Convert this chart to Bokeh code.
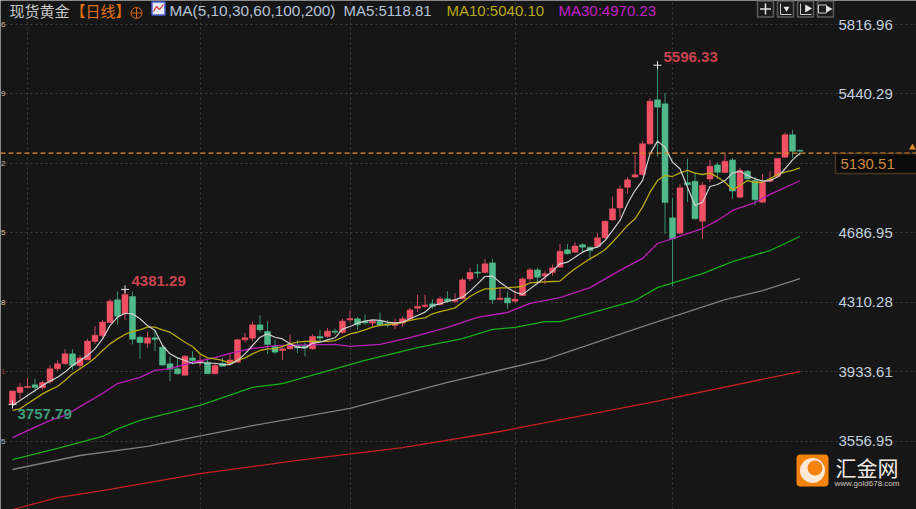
from bokeh.plotting import figure
from bokeh.models import Range1d, FixedTicker, Span, Label, PrintfTickFormatter, ColumnDataSource, BoxAnnotation
from bokeh.core.properties import value
from bokeh.embed import file_html
from bokeh.resources import INLINE

opens = [3762,3822,3849,3864,3848,3882,3951,3978,4032,3969,3999,4099,4131,4202,4325,4249,4343,4122,4090,4119,4068,3978,3951,3916,4010,3985,3987,3924,3981,3978,3987,4108,4117,4189,4153,4072,
4050,4059,4077,4077,4059,4126,4126,4155,4148,4216,4222,4209,4198,4209,4195,4186,4198,4222,4279,4289,4303,4299,4330,4317,4330,4438,4475,4473,4525,4326,4335,4317,4348,4438,4487,4455,4473,4502,
4596,4583,4623,4610,4614,4661,4758,4823,4935,4990,5004,5170,5409,5387,4769,4686,4960,4968,4751,4980,5056,5015,5083,4881,5022,4971,4854,4968,4993,5098,5219,5136]
highs = [3833,3873,3900,3896,3887,3970,3996,4057,4057,4023,4113,4182,4216,4330,4370,4381.29,4370,4131,4153,4153,4077,4018,4010,4025,4046,4028,3999,3981,4010,4032,4113,4146,4207,4242,4209,4108,
4068,4137,4108,4095,4137,4162,4173,4169,4222,4267,4231,4245,4216,4256,4216,4222,4234,4281,4352,4352,4328,4343,4372,4361,4444,4498,4520,4547,4547,4393,4370,4379,4447,4498,4498,4480,4516,4628,
4628,4637,4632,4615,4686,4754,4885,4944,4989,5110,5185,5418,5596.33,5446,4877,4950,5089,5016,4962,5083,5071,5116,5094,5040,5029,4990,5007,5022,5094,5232,5246,5138]
lows = [3757.79,3788,3848,3824,3837,3869,3938,3974,3945,3945,3999,4086,4122,4198,4189,4216,4083,4005,4064,4046,3969,3884,3920,3915,3974,3963,3924,3923,3963,3974,3985,4095,4101,4146,4032,4032,
3999,4054,4036,4018,4054,4101,4119,4137,4140,4202,4162,4186,4173,4180,4176,4167,4180,4216,4258,4281,4276,4294,4307,4307,4328,4426,4444,4469,4303,4325,4276,4310,4345,4424,4415,4408,4455,4498,
4570,4578,4583,4538,4610,4655,4755,4773,4899,4986,4999,5166,5101,4682,4399,4679,4854,4760,4655,4962,4980,5011,4872,4877,4975,4836,4850,4962,4989,5094,5094,5107]
closes = [3830,3851,3855,3849,3877,3951,3978,4032,3969,4010,4101,4133,4204,4317,4236,4354,4111,4093,4119,4110,3971,3949,3924,4019,3996,3996,3924,3969,3965,3999,4108,4119,4189,4162,4083,4041,
4059,4086,4064,4064,4126,4117,4155,4149,4209,4223,4189,4200,4209,4187,4187,4202,4222,4270,4289,4296,4289,4330,4317,4325,4433,4473,4469,4520,4325,4334,4308,4328,4438,4487,4447,4466,4498,4588,
4574,4616,4610,4592,4661,4751,4818,4926,4975,5002,5170,5401,5369,4852,4655,4932,4948,4764,4946,5049,5016,5076,4914,5026,4980,4867,4962,4980,5091,5219,5130,5130.51]

ma5 = [3752,3779,3806,3833,3860,3884,3905,3933,3969,3996,4023,4059,4113,4185,4231,4252,4249,4222,4185,4158,4077,4032,4010,3996,3981,3985,3981,3981,3974,3974,3996,4032,4077,4122,4140,4122,
4113,4086,4068,4064,4090,4095,4108,4119,4166,4180,4198,4209,4216,4213,4204,4198,4204,4222,4240,4258,4294,4303,4317,4325,4339,4372,4411,4451,4453,4420,4390,4366,4354,4384,4415,4447,4480,4520,
4529,4556,4583,4601,4610,4646,4700,4755,4845,4917,4971,5116,5185,5152,5071,5035,4935,4836,4854,4939,4950,4971,5011,5022,4999,4980,4968,4971,4990,5035,5083,5118.81]
ma10 = [3725,3734,3761,3788,3815,3837,3855,3887,3924,3951,3978,4010,4050,4086,4113,4137,4153,4162,4177,4177,4162,4149,4122,4095,4072,4032,4010,4005,3996,3981,3996,4010,4032,4050,4059,4059,
4072,4086,4095,4099,4101,4099,4099,4104,4122,4140,4149,4162,4177,4186,4191,4195,4202,4213,4222,4227,4249,4261,4270,4281,4312,4343,4366,4384,4384,4390,4390,4393,4397,4417,4420,4422,4424,4426,
4462,4493,4520,4547,4570,4596,4637,4682,4728,4764,4827,4908,4971,4999,4993,5013,5026,5011,5004,5011,4990,4962,4921,4944,4971,4962,4962,4980,5004,5017,5026,5040.10]
ma30_x = [0,5,7,9,12,14,17,19,21,24,27,29,32,35,43,45,49,53,58,62,66,69,73,77,81,84,86,88,92,94,96,99,101,105]
ma30 = [3578,3671,3698,3746,3817,3871,3904,3942,3952,3985,4012,4034,4061,4077,4083,4072,4083,4120,4175,4229,4256,4305,4337,4391,4484,4549,4630,4657,4711,4755,4809,4852,4896,4970.23]
ma60_x = [0,6,12,14,17,25,32,36,47,54,60,64,67,71,73,83,86,92,96,101,105]
ma60 = [3459,3519,3584,3625,3671,3752,3850,3871,3996,4066,4115,4164,4175,4207,4207,4321,4391,4467,4532,4592,4668]
ma100_x = [0,9,18,32,45,58,71,84,95,100,105]
ma100 = [3405,3481,3530,3643,3736,3877,4001,4180,4326,4375,4440]
ma200_x = [0,6,12,25,38,52,65,85,105]
ma200 = [3188,3253,3291,3383,3454,3524,3611,3768,3936]

axis_ticks = [5816.96,5440.29,4686.95,4310.28,3933.61,3556.95]
grid_ticks = [5816.96,5440.29,5063.62,4686.95,4310.28,3933.61,3556.95]
edge_digits = ["6","9","2","5","8","1","5"]
edge_colors = ["#d8c0a0","#d8c0a0","#d8c0a0","#d8c0a0","#d8c0a0","#8c3030","#a8c0d8"]
month_starts = [2,25,45,67,88]
extreme_idx = [0,15,86]
extreme_val = [3757.79,4381.29,5596.33]
last_level = 5120
last_label = "5130.51"

BG = "#161616"
UP, DOWN = "#ef5063", "#4fb98a"
UPW, DOWNW = "#c8465a", "#35906c"

# pixel-to-data helpers for the chart furniture only
def px(x): return (x - 12) / 7.5
def py(y): return 5947.04 - 5.42 * y
W, H = 916, 509

p = figure(width=W, height=H, output_backend="svg", toolbar_location=None,
           x_range=Range1d(px(0), px(W)), y_range=Range1d(py(H), py(0)),
           y_axis_location="right", background_fill_color=BG, border_fill_color=BG,
           min_border_left=0, min_border_top=0, min_border_bottom=0, min_border_right=0,
           outline_line_color=None)
p.xaxis.visible = False
p.yaxis.ticker = FixedTicker(ticks=axis_ticks)
p.yaxis.formatter = PrintfTickFormatter(format="%.2f")
p.yaxis.axis_line_color = None
p.yaxis.major_tick_line_color = None
p.yaxis.minor_tick_line_color = None
p.yaxis.major_tick_out = 0
p.yaxis.major_tick_in = 0
p.yaxis.major_label_standoff = -78
p.yaxis.major_label_text_font = "Liberation Sans"
p.yaxis.major_label_text_font_size = "15px"
p.yaxis.major_label_text_color = "#c4cedb"
p.ygrid.ticker = FixedTicker(ticks=grid_ticks)
p.ygrid.bounds = (px(0), px(835))
p.xgrid.ticker = FixedTicker(ticks=month_starts)
for g in (p.xgrid, p.ygrid):
    g.grid_line_color = "#3e3e3e"
    g.grid_line_dash = "2 3"
    g.grid_line_width = 1

n = len(closes)
idx = list(range(n))
color = [UP if c >= o else DOWN for o, c in zip(opens, closes)]
wick = [UPW if c >= o else DOWNW for o, c in zip(opens, closes)]
src = ColumnDataSource(dict(x=idx, o=opens, h=highs, l=lows, c=closes, color=color, wick=wick,
                            top=[max(a, b) for a, b in zip(opens, closes)],
                            bot=[min(a, b) for a, b in zip(opens, closes)]))
p.segment("x", "h", "x", "l", color="wick", line_width=1, source=src)
p.vbar("x", top="top", bottom="bot", width=0.8, fill_color="color", line_color="color", line_width=0.5, source=src)

p.line(ma200_x, ma200, line_color="#c22222", line_width=1.3)
p.line(ma100_x, ma100, line_color="#7e7e7e", line_width=1.3)
p.line(ma60_x, ma60, line_color="#18ad18", line_width=1.3)
p.line(ma30_x, ma30, line_color="#b81fb8", line_width=1.3)
p.line(idx, ma10, line_color="#b8a90f", line_width=1.3)
p.line(idx, ma5, line_color="#cfcfcf", line_width=1.2)

p.scatter(extreme_idx, extreme_val, marker="cross", size=8, line_color="#e8e8e8", line_width=1)

p.add_layout(Span(location=last_level, dimension="width", line_color="#e08a2a", line_dash="5 3", line_width=1.2))

ext_text = [f"{v:.2f}" for v in extreme_val]
p.text(extreme_idx, extreme_val, text=ext_text, text_font=value("Liberation Sans"), text_font_size="15px",
       text_font_style="bold", text_color=["#3f9c7a", "#c8434f", "#c8434f"], text_align="left", text_baseline="middle",
       x_offset=[5, 6.5, 6], y_offset=[10, -8, -8.7])

# small figures of the left axis at the window edge
p.text([px(0.5)] * len(edge_digits), grid_ticks, text=edge_digits,
       text_font=value("Liberation Sans"), text_font_size="8px", text_color=edge_colors,
       text_align="left", text_baseline="middle")

def lab(x, y, text, color, size="15px", font="Liberation Sans", **kw):
    p.add_layout(Label(x=x, y=H - y, x_units="screen", y_units="screen", text=text, text_color=color,
                       text_font=font, text_font_size=size, text_baseline="middle", **kw))

cjk = "Noto Sans CJK SC"
lab(9, 10, "现货黄金", "#c9c9c9", "15px", cjk)
lab(70, 10, "【日线】", "#e2700f", "15px", cjk)
lab(169, 10, "MA(5,10,30,60,100,200)", "#b4c2d2", "15.4px")
lab(343, 10, "MA5:5118.81", "#b4c2d2")
lab(446, 10, "MA10:5040.10", "#b7a910")
lab(558, 10, "MA30:4970.23", "#c020c0")

# header icons
p.scatter([px(136)], [py(12.5)], marker="circle_cross", size=11, fill_color=None, line_color="#d9660f", line_width=1)
p.scatter([px(158)], [py(8)], marker="square", size=13, fill_color="#e8ecfa", line_color="#4b5fd0", line_width=1.5)
p.line([px(x) for x in (153, 156, 159, 163)], [py(y) for y in (11, 6, 9, 4)], line_color="#d02a2a", line_width=1.2)
for cx in (765, 785, 805, 825):
    p.scatter([px(cx)], [py(8.5)], marker="square", size=16, fill_color="#1b1b1b", line_color="#5c5c5c", line_width=1.5)
p.scatter([px(765)], [py(8.5)], marker="cross", size=11, line_color="#e4e4e4", line_width=1.5)
for cx in (785, 805):
    p.line([px(cx - 5), px(cx - 5), px(cx + 6)], [py(3), py(14), py(14)], line_color="#cfcfcf", line_width=1)
p.scatter([px(786)], [py(8)], marker="inverted_triangle", size=6, fill_color="#e4e4e4", line_color=None)
p.scatter([px(807)], [py(8)], marker="triangle", angle=-1.5708, size=8, fill_color="#e4e4e4", line_color=None)
p.scatter([px(822)], [py(8.5)], marker="square", size=8, fill_color=None, line_color="#cfcfcf", line_width=1)
p.scatter([px(828)], [py(8.5)], marker="triangle", angle=-1.5708, size=7, fill_color="#e4e4e4", line_color=None)

# price tag
p.add_layout(BoxAnnotation(left=835, right=W + 4, top=H - 153, bottom=H - 173,
                           left_units="screen", right_units="screen", top_units="screen", bottom_units="screen",
                           fill_color="#0b0b0b", fill_alpha=1, line_color="#c98a3c", line_width=1.5))
lab(840, 163, last_label, "#c98a3c")
p.scatter([px(912)], [py(147)], marker="triangle", size=7, fill_color="#dc8a2e", line_color=None)

# logo
p.add_layout(BoxAnnotation(left=796, right=828, top=H - 454, bottom=H - 486,
                           left_units="screen", right_units="screen", top_units="screen", bottom_units="screen",
                           fill_color="#f5820d", fill_alpha=1, line_color=None, border_radius=4))
p.scatter([px(812)], [py(470)], marker="circle", size=25, fill_color="#fbe8d4", line_color=None, level="overlay")
p.scatter([px(814.5)], [py(467.5)], marker="circle", size=15, fill_color="#f5820d", line_color=None, level="overlay")
lab(835, 466, "汇金网", "#f3ece4", "21px", cjk)
lab(834, 483, "www.gold678.com", "#d0c8c0", "8px")

html = file_html(p, INLINE)
open("out.html", "w").write(html)
